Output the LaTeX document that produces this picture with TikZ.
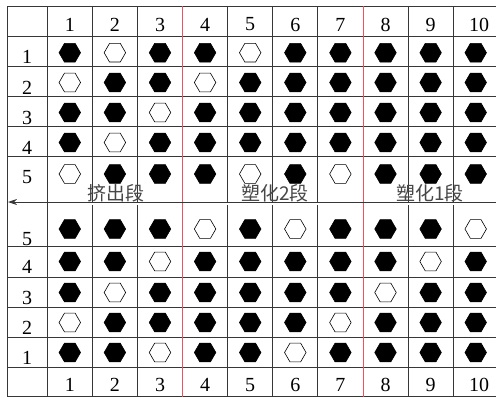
\documentclass[tikz,border=0pt]{standalone}
\usepackage{fontspec}
\setmainfont{Liberation Serif}
\newfontfamily\cjk{Noto Sans CJK SC}
\usetikzlibrary{shapes.geometric,arrows.meta}
\definecolor{redrule}{RGB}{238,82,92}
\definecolor{gridline}{RGB}{55,55,55}
\begin{document}
\begin{tikzpicture}[x=1pt,y=-1pt,
  hexbase/.style={regular polygon,regular polygon sides=6,minimum size=21.5pt,inner sep=0pt,draw=black,line width=0.6pt},
  hexb/.style={hexbase,fill=black},
  hexo/.style={hexbase,fill=white},
  num/.style={font=\fontsize{20}{20}\selectfont,inner sep=0pt},
  seglabel/.style={font=\cjk\fontsize{19}{19}\selectfont,text=black!72,inner sep=0pt},
  gridln/.style={draw=gridline,line width=0.9pt},
  redln/.style={draw=redrule,line width=0.9pt}]
\useasboundingbox (0,0) rectangle (496,397);
% horizontal lines
\foreach \y in {6,36,66,96,126.7,156.7,246.7,277.3,307.3,337.7,367.7,396}
  \draw[gridln] (7,\y) -- (496,\y);
% left border and row-label divider
\draw[gridln] (7,6) -- (7,396);
\draw[gridln] (47.3,6) -- (47.3,396);
% column dividers
\foreach \x in {92.4,137.5,227.7,272.8,317.9,408.1,453.2}{
  \draw[gridln] (\x,6) -- (\x,202);
  \draw[gridln] (\x,205) -- (\x,396);
}
% red section lines
\draw[redln] (182.6,6) -- (182.6,397);
\draw[redln] (363,6) -- (363,397);
% arrow
\coordinate (arrR) at (496,202);
\coordinate (arrL) at (8,202);
\draw[gridln,-{Stealth[length=9pt,width=6pt,inset=3pt]}] (arrR) -- (arrL);
% header numbers
\foreach \c in {1,...,9}{
  \node[num] (ht\c) at ({24.7+45.1*\c},24.5) {\c};
  \node[num] (hb\c) at ({24.7+45.1*\c},385) {\c};
}
\node[num] (ht10) at (479,24.5) {10};
\node[num] (hb10) at (479,385) {10};
% row labels
\foreach \r/\y in {1/57,2/88,3/118,4/148,5/177}
  \node[num] (rt\r) at (27,\y) {\r};
\foreach \r/\y in {5/239,4/267,3/298,2/328,1/358}
  \node[num] (rb\r) at (27,\y) {\r};
% hexagons
\foreach \r/\y/\pat in {
  t1/52.7/{b,o,b,b,o,b,b,b,b,b},
  t2/82.5/{o,b,b,o,b,b,b,b,b,b},
  t3/112.5/{b,b,o,b,b,b,b,b,b,b},
  t4/142.5/{b,o,b,b,b,b,b,b,b,b},
  t5/174/{o,b,b,b,o,b,o,b,b,b},
  b5/229/{b,b,b,o,b,o,b,b,b,o},
  b4/261.5/{b,b,o,b,b,b,b,b,o,b},
  b3/292.5/{b,o,b,b,b,b,b,o,b,b},
  b2/322.5/{o,b,b,b,b,b,o,b,b,b},
  b1/352.5/{b,b,o,b,b,o,b,b,b,b}}{
  \foreach \f [count=\c] in \pat
    \node[hex\f] (\r-\c) at ({24.7+45.1*\c},\y) {};
}
% section labels
\node[seglabel] (seg1) at (116,193) {挤出段};
\node[seglabel] (seg2) at (275,193) {塑化2段};
\node[seglabel] (seg3) at (430,193) {塑化1段};
\end{tikzpicture}
\end{document}
